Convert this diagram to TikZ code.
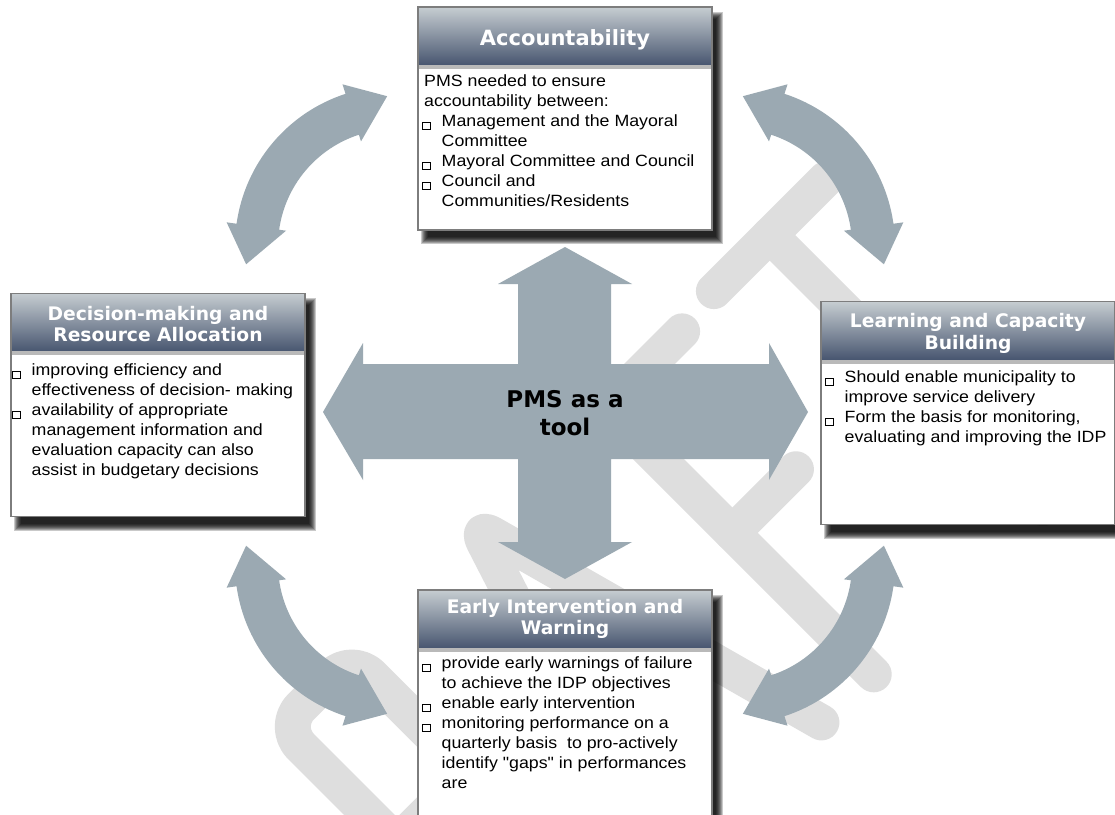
\documentclass[tikz,border=0pt]{standalone}
\usepackage{fontspec}
\setmainfont{Liberation Sans}[FakeStretch=1.09,Ligatures=TeXOff]
\newfontfamily\hfont{DejaVu Sans}
\usetikzlibrary{calc}
\definecolor{arrowc}{RGB}{155,169,178}
\definecolor{wmark}{RGB}{222,222,222}
\definecolor{htop}{RGB}{198,205,209}
\definecolor{hbot}{RGB}{72,86,112}
\definecolor{stripc}{RGB}{185,185,185}
\definecolor{bordc}{RGB}{125,125,125}
\newcommand\sqbul{\raisebox{-2.6pt}{\setlength\fboxsep{0pt}\setlength\fboxrule{0.9pt}\fbox{\rule{0pt}{6.2pt}\hspace{6.6pt}}}}
\newcommand\bitem[1]{\makebox[19.5pt][l]{\sqbul}#1}
\newcommand\citem[1]{\hspace*{19.5pt}#1}
\newcommand\carrow[4]{%
\fill[arrowc] ($(#1,#2)+(#3:117)$) arc[start angle=#3,end angle=#4,radius=117]
 -- ($(#1,#2)+(#4:110)$) -- ($(#1,#2)+({#4+15}:150)$) -- ($(#1,#2)+(#4:170)$) -- ($(#1,#2)+(#4:160)$)
 arc[start angle=#4,end angle=#3,radius=160]
 -- ($(#1,#2)+(#3:170)$) -- ($(#1,#2)+({#3-15}:150)$) -- ($(#1,#2)+(#3:110)$) -- cycle;}
\newcommand\shadowrect[4]{\foreach \k in {0,...,7}{\fill[black,opacity=0.21] ({#1+3+\k},{#2+5+\k}) rectangle ({#3+11-\k},{#4+14-\k});}}
\newcommand\header[1]{%
 \shade[top color=htop,bottom color=hbot] (#1.north west) rectangle ($(#1.north east)+(0,58)$);
 \fill[stripc] ($(#1.north west)+(0,58)$) rectangle ($(#1.north east)+(0,62)$);
 \draw[bordc,line width=1.2pt] (#1.north west) rectangle (#1.south east);}
\begin{document}
\begin{tikzpicture}[x=1pt,y=-1pt,
 panel/.style={fill=white, inner sep=0pt, outer sep=0pt,
   minimum width=294pt, minimum height=223pt},
 ttl/.style={text=white, font=\hfont\bfseries, anchor=base, inner sep=0pt},
 body/.style={anchor=base west, inner sep=0pt, font=\fontsize{16.3}{20}\selectfont},
 wm/.style={draw=wmark, line width=36pt, line cap=round, line join=round}]
\useasboundingbox (0,0) rectangle (1115,814);
\fill[white] (0,0) rectangle (1115,814);
% watermark
\begin{scope}[shift={(782.5,782.5)}, x={(0.7071pt,0.7071pt)}, y={(-0.7071pt,0.7071pt)}]
 \draw[wm, rounded corners=28pt] (-315,-40) -- (-315,394) -- (-215,394) -- (-215,230) -- (-315,230);
 \draw[wm] (-250,230) -- (-180,-40);
 \draw[wm, rounded corners=20pt] (-170,-20) -- (-35,400) -- (70,15);
 \draw[wm] (-123,140) -- (36,140);
 \draw[wm] (141,12) -- (141,390) -- (248,390);
 \draw[wm] (141,212) -- (231,212);
 \draw[wm] (299,396) -- (457,396);
 \draw[wm] (378,396) -- (378,10);
\end{scope}
% curved arrows
\carrow{395}{246}{188}{252}
\carrow{735}{246}{-72}{-8}
\carrow{395}{564}{108}{172}
\carrow{735}{564}{8}{72}
% central cross
\fill[arrowc] (565,247) -- (632,284) -- (611,284) -- (611,364) -- (769,364) -- (769,343) -- (808,412)
 -- (769,480) -- (769,459) -- (611,459) -- (611,542) -- (632,542) -- (565,579) -- (498,542)
 -- (518,542) -- (518,459) -- (363,459) -- (363,480) -- (323,412) -- (363,343) -- (363,364)
 -- (518,364) -- (518,284) -- (498,284) -- cycle;
\node[font=\hfont\bfseries\fontsize{23}{28}\selectfont, anchor=base, inner sep=0pt] (tool) at (565,407)
 {\begin{tabular}[t]{@{}c@{}}PMS as a\\tool\end{tabular}};
% shadows
\shadowrect{418}{7}{712}{230}
\shadowrect{11}{293}{305}{516.5}
\shadowrect{821}{301.5}{1115}{524.5}
\shadowrect{418}{590}{712}{830}
% panels
\node[panel] (acc) at (565,118.5) {};
\node[panel] (dec) at (158,404.75) {};
\node[panel] (lea) at (968,413) {};
\node[panel, minimum height=240pt] (ear) at (565,710) {};
\header{acc}\header{dec}\header{lea}\header{ear}
% titles
\node[ttl] (tacc) at (565,45) {\fontsize{21}{24}\selectfont Accountability};
\node[ttl] (tdec) at (158,320) {\fontsize{18.7}{21.5}\selectfont\begin{tabular}[t]{@{}c@{}}Decision-making and\\Resource Allocation\end{tabular}};
\node[ttl] (tlea) at (968,327.5) {\fontsize{18.7}{21.5}\selectfont\begin{tabular}[t]{@{}c@{}}Learning and Capacity\\Building\end{tabular}};
\node[ttl] (tear) at (565,613) {\fontsize{18.7}{21.5}\selectfont\begin{tabular}[t]{@{}c@{}}Early Intervention and\\Warning\end{tabular}};
% bodies
\node[body] (bacc) at (422,86) {\begin{tabular}[t]{@{}l@{}}
\hspace*{2pt}PMS needed to ensure\\
\hspace*{2pt}accountability between:\\
\bitem{Management and the Mayoral}\\
\citem{Committee}\\
\bitem{Mayoral Committee and Council}\\
\bitem{Council and}\\
\citem{Communities/Residents}\end{tabular}};
\node[body] (bdec) at (12,375) {\begin{tabular}[t]{@{}l@{}}
\bitem{improving efficiency and}\\
\citem{effectiveness of decision- making}\\
\bitem{availability of appropriate}\\
\citem{management information and}\\
\citem{evaluation capacity can also}\\
\citem{assist in budgetary decisions}\end{tabular}};
\node[body] (blea) at (825,382) {\begin{tabular}[t]{@{}l@{}}
\bitem{Should enable municipality to}\\
\citem{improve service delivery}\\
\bitem{Form the basis for monitoring,}\\
\citem{evaluating and improving the IDP}\end{tabular}};
\node[body] (bear) at (422,668) {\begin{tabular}[t]{@{}l@{}}
\bitem{provide early warnings of failure}\\
\citem{to achieve the IDP objectives}\\
\bitem{enable early intervention}\\
\bitem{monitoring performance on a}\\
\citem{quarterly basis\ \ to pro-actively}\\
\citem{identify "gaps" in performances}\\
\citem{are}\end{tabular}};
\end{tikzpicture}
\end{document}
